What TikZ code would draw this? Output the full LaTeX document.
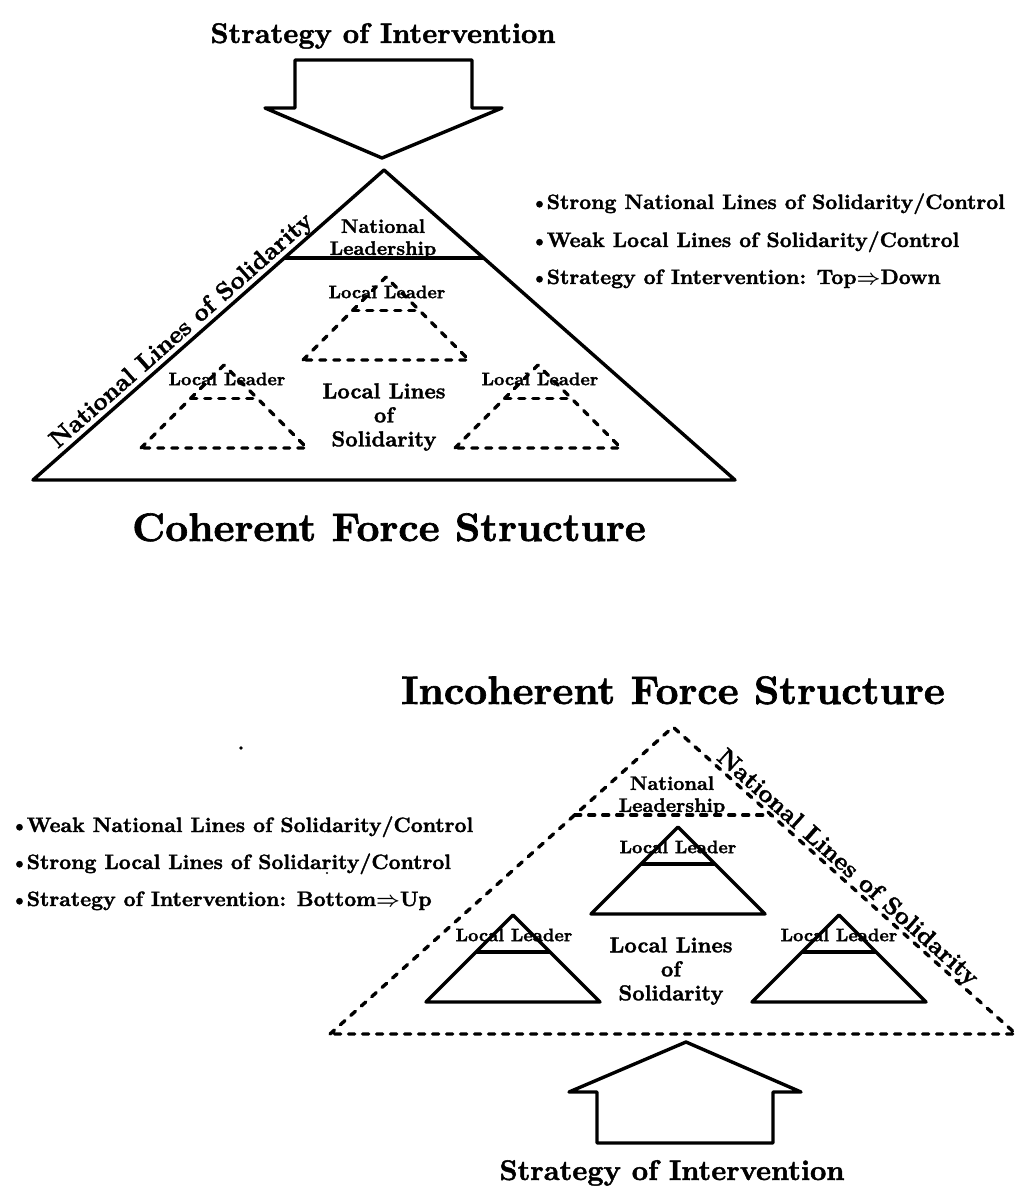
\documentclass[tikz,border=0pt]{standalone}
\usepackage{fontspec}
\newfontfamily\hvy{lmroman10-bold}[Extension=.otf, FakeBold=1.6]
\usetikzlibrary{calc}
\newcommand{\bul}{\textbullet\kern-2pt}
\begin{document}
\begin{tikzpicture}[x=1pt,y=-1pt,
  ln/.style={line width=3.4pt, line join=round},
  dsh/.style={line width=3.4pt, dash pattern=on 6pt off 8pt, line cap=round, line join=round},
  ttl/.style={font=\hvy\fontsize{28.4}{31}\selectfont, inner sep=0pt, anchor=base},
  bigttl/.style={font=\hvy\fontsize{39.8}{44}\selectfont, inner sep=0pt, anchor=base},
  blt/.style={font=\hvy\fontsize{20.8}{23}\selectfont, inner sep=0pt, anchor=base west},
  natl/.style={font=\hvy\fontsize{19.5}{22}\selectfont, align=center, inner sep=0pt},
  lldr/.style={font=\hvy\fontsize{18}{20}\selectfont, inner sep=0pt},
  lloc/.style={font=\hvy\fontsize{21.6}{24}\selectfont, align=center, inner sep=0pt},
  nlos/.style={font=\hvy\fontsize{24.6}{27}\selectfont, inner sep=0pt, anchor=base}]
\useasboundingbox (0,0) rectangle (1021,1201);

% ---------------- top: coherent ----------------
\node[ttl] (ttitle) at (383,43) {Strategy of Intervention};
\coordinate (a1) at (295,60);
\coordinate (a2) at (472,60);
\coordinate (a3) at (472,108);
\coordinate (a4) at (502,108);
\coordinate (a5) at (382,158);
\coordinate (a6) at (265,108);
\coordinate (a7) at (295,108);
\draw[ln] (a1)--(a2)--(a3)--(a4)--(a5)--(a6)--(a7)--cycle;

\coordinate (tA) at (384,170);
\coordinate (tL) at (33,480);
\coordinate (tR) at (735,480);
\draw[ln] (tL)--(tA)--(tR)--cycle;
\draw[ln] ($(tA)!0.284!(tL)$) -- ($(tA)!0.284!(tR)$);
\node[natl] (tnat) at (383,239) {National\\Leadership};

\foreach \n/\cx/\ay in {c/386/277, l/224/365, r/538/365}{
  \coordinate (s\n-A) at (\cx,\ay);
  \coordinate (s\n-L) at ({\cx-83},{\ay+83});
  \coordinate (s\n-R) at ({\cx+83},{\ay+83});
  \draw[dsh] (s\n-L) -- (s\n-A) -- (s\n-R) -- cycle;
  \draw[dsh] ($(s\n-A)!0.4!(s\n-L)$) -- ($(s\n-A)!0.4!(s\n-R)$);
}
\node[lldr] (tllc) at (387,292) {Local Leader};
\node[lldr] (tlll) at (227,379) {Local Leader};
\node[lldr] (tllr) at (540,379) {Local Leader};
\node[lloc] (tloc) at (384,417) {Local Lines\\of\\Solidarity};

\node[nlos, rotate=41.45] (tnls) at (186,336) {National Lines of Solidarity};

\node[blt] (tb1) at (530,209) {\bul Strong National Lines of Solidarity/Control};
\node[blt] (tb2) at (530,247) {\bul Weak Local Lines of Solidarity/Control};
\node[blt] (tb3) at (530,284) {\bul Strategy of Intervention: Top{\boldmath$\Rightarrow$}Down};

\node[bigttl] (coh) at (389,541) {Coherent Force Structure};

% ---------------- bottom: incoherent ----------------
\node[bigttl] (incoh) at (673,704) {Incoherent Force Structure};

\fill (241,748) circle (1.8);
\fill (327,873) circle (1.2);

\node[blt] (bb1) at (10,832) {\bul Weak National Lines of Solidarity/Control};
\node[blt] (bb2) at (10,869) {\bul Strong Local Lines of Solidarity/Control};
\node[blt] (bb3) at (10,906) {\bul Strategy of Intervention: Bottom{\boldmath$\Rightarrow$}Up};

\coordinate (bA) at (673,727);
\coordinate (bL) at (330,1034);
\coordinate (bR) at (1016,1034);
\draw[dsh] (bL)--(bA)--(bR)--cycle;
\draw[dsh] ($(bA)!0.2866!(bL)$) -- ($(bA)!0.2866!(bR)$);
\node[natl] (bnat) at (672,796) {National\\Leadership};

\foreach \n/\cx/\ay in {c/678/827, l/513/915, r/839/915}{
  \coordinate (u\n-A) at (\cx,\ay);
  \coordinate (u\n-L) at ({\cx-87},{\ay+87});
  \coordinate (u\n-R) at ({\cx+87},{\ay+87});
  \draw[ln] (u\n-L) -- (u\n-A) -- (u\n-R) -- cycle;
  \draw[ln] ($(u\n-A)!0.425!(u\n-L)$) -- ($(u\n-A)!0.425!(u\n-R)$);
}
\node[lldr] (bllc) at (678,847) {Local Leader};
\node[lldr] (blll) at (514,935) {Local Leader};
\node[lldr] (bllr) at (839,935) {Local Leader};
\node[lloc] (bloc) at (671,971) {Local Lines\\of\\Solidarity};

\node[nlos, rotate=-41.8] (bnls) at (843,873) {National Lines of Solidarity};

\coordinate (b1) at (597,1143);
\coordinate (b2) at (773,1143);
\coordinate (b3) at (773,1092);
\coordinate (b4) at (801,1092);
\coordinate (b5) at (686,1042);
\coordinate (b6) at (569,1092);
\coordinate (b7) at (597,1092);
\draw[ln] (b1)--(b2)--(b3)--(b4)--(b5)--(b6)--(b7)--cycle;
\node[ttl] (btitle) at (672,1180) {Strategy of Intervention};
\end{tikzpicture}
\end{document}
